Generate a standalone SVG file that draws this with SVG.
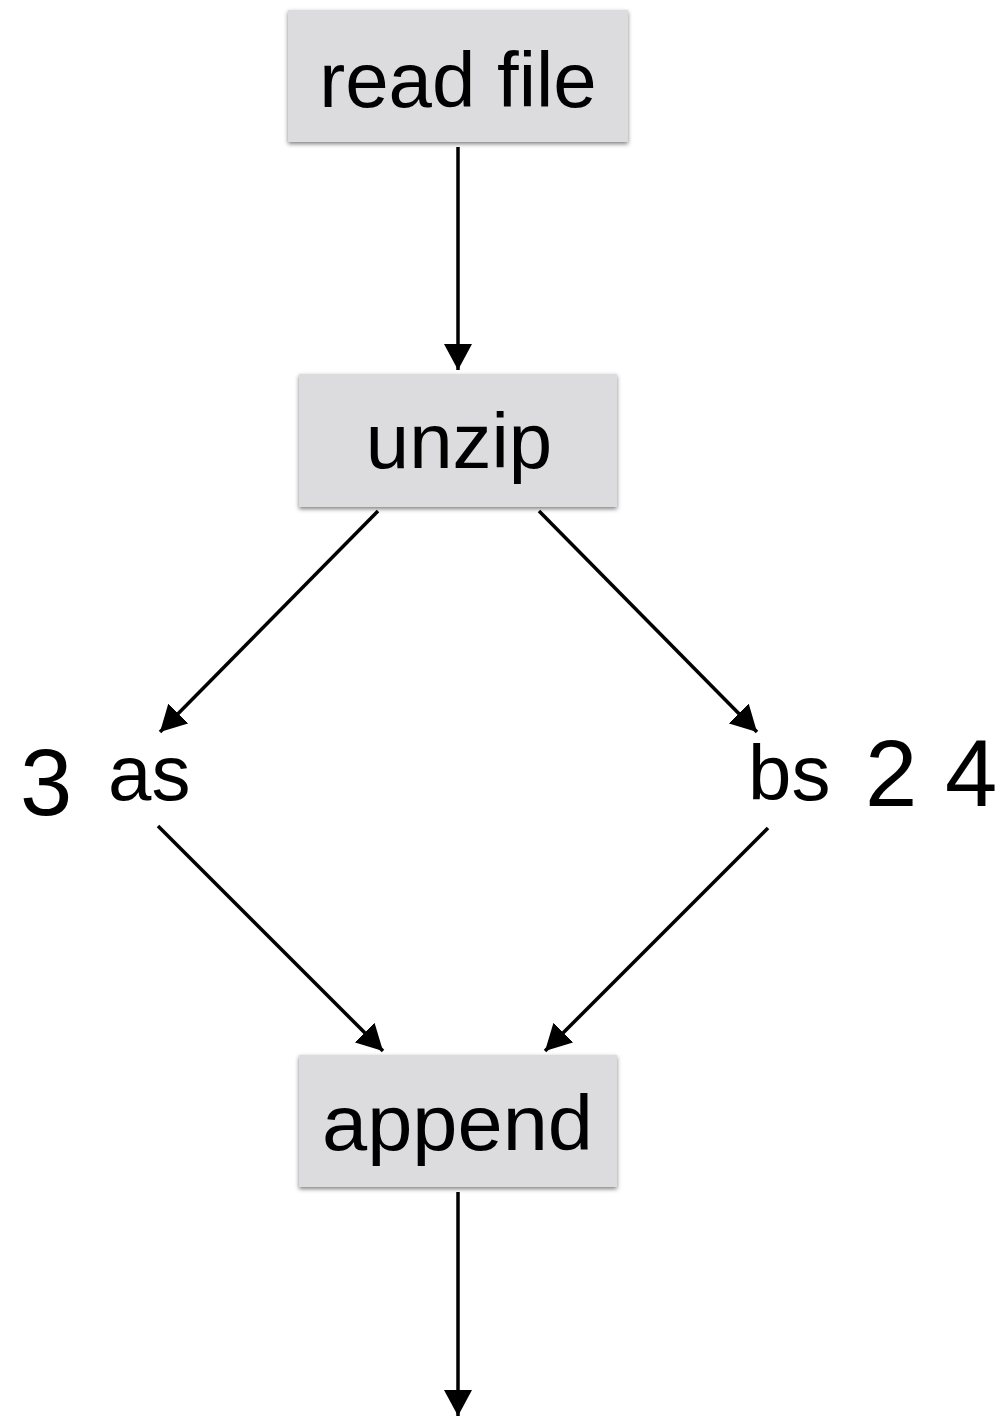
<svg xmlns="http://www.w3.org/2000/svg" width="1003" height="1416" viewBox="0 0 1003 1416">
<style>
.box{fill:#dcdcde;filter:url(#sh)}
.lbl{font-family:"Liberation Sans",Arial,sans-serif;font-size:78px;fill:#000}
.big{font-size:94px}
.edge{stroke:#000;stroke-width:3.5;fill:none;marker-end:url(#ah)}
</style>
<defs>
<filter id="sh" x="-10%" y="-10%" width="120%" height="130%">
<feDropShadow dx="0" dy="2" stdDeviation="2" flood-color="#000" flood-opacity="0.5"/>
</filter>
<marker id="ah" markerUnits="userSpaceOnUse" markerWidth="28" markerHeight="28" viewBox="0 0 28 28" refX="26" refY="14" orient="auto">
<path d="M0,0 L26,14 L0,28 Z" fill="#000"/>
</marker>
</defs>
<g id="connectors">
<line class="edge" x1="458" y1="147" x2="458" y2="370"/>
<line class="edge" x1="378" y1="511" x2="160" y2="732"/>
<line class="edge" x1="539" y1="511" x2="757" y2="732"/>
<line class="edge" x1="158" y1="826" x2="383" y2="1051"/>
<line class="edge" x1="768" y1="828" x2="545" y2="1051"/>
<line class="edge" x1="458" y1="1192" x2="458" y2="1416"/>
</g>
<g id="node-read-file">
<rect class="box" x="288" y="10" width="340" height="132"/>
<text class="lbl" x="458" y="107" text-anchor="middle">read file</text>
</g>
<g id="node-unzip">
<rect class="box" x="299" y="374" width="318" height="133"/>
<text class="lbl" x="459" y="468" text-anchor="middle">unzip</text>
</g>
<g id="node-append">
<rect class="box" x="299" y="1055" width="318" height="132"/>
<text class="lbl" x="322" y="1150" textLength="271" lengthAdjust="spacingAndGlyphs">append</text>
</g>
<g id="node-as">
<text class="lbl big" x="20" y="815">3</text>
<text class="lbl" x="108" y="800">as</text>
</g>
<g id="node-bs">
<text class="lbl" x="748" y="800">bs</text>
<text class="lbl big" x="865" y="806">2</text>
<text class="lbl big" x="945" y="806">4</text>
</g>
</svg>
